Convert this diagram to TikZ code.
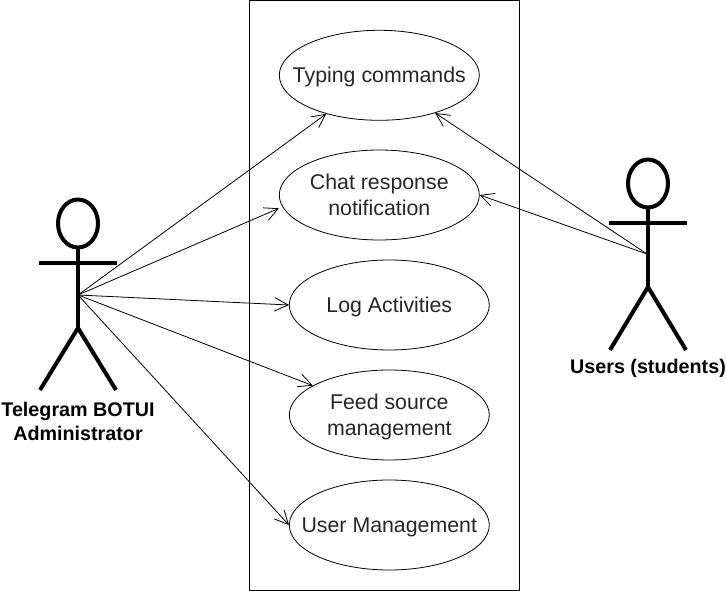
\documentclass[tikz,border=0pt]{standalone}
\usepackage{fontspec}
\setmainfont{Liberation Sans}
\usetikzlibrary{arrows.meta,shapes.geometric}
\newcommand{\uctext}[1]{\raisebox{-6pt}[0pt][0pt]{\makebox[0pt][c]{\begin{tabular}{@{}c@{}}#1\end{tabular}}}}
\begin{document}
\begin{tikzpicture}[x=0.75pt,y=-0.75pt,line join=round,
 uc/.style={draw=black,ellipse,line width=0.6pt,minimum width=150pt,minimum height=67.5pt,inner sep=0pt,font=\fontsize{16}{19.25}\selectfont,text=black!85},
 limb/.style={draw=black,line width=3pt},
 lab/.style={align=center,font=\bfseries\fontsize{14.8}{18}\selectfont},
 conn/.style={draw=black,line width=0.6pt,-{Straight Barb[length=10pt,width=10pt,line width=0.6pt]}}]
\useasboundingbox (0,0) rectangle (726,591);
\fill[white] (0,0) rectangle (726,591);
\node[draw=black,line width=0.75pt,minimum width=202.5pt,minimum height=442.5pt,inner sep=0pt] (sys) at (384.3,295.5) {};
\node[uc] (a) at (379.3,75.3) {\uctext{Typing commands}};
\node[uc] (b) at (379.3,195) {\uctext{Chat response\\notification}};
\node[uc] (c) at (389.3,305) {\uctext{Log Activities}};
\node[uc] (d) at (389.3,415) {\uctext{Feed source\\management}};
\node[uc] (e) at (389.3,525) {\uctext{User Management}};
\coordinate (bt) at ([yshift=-10pt]b.west);
% left actor
\coordinate (L) at (78,295);
\draw[limb] (78,223.5) ellipse (20 and 24);
\draw[limb] (78,247.5) -- (78,328);
\draw[limb] (39,263.5) -- (117,263.5);
\draw[limb] (40,390) -- (78,328) -- (116,390);
\node[lab] (ll) at (78,421) {Telegram BOTUI\\Administrator};
% right actor
\coordinate (R) at (647,254);
\draw[limb] (648,183.5) ellipse (20 and 24);
\draw[limb] (648,207.5) -- (648,287);
\draw[limb] (609,223.5) -- (687,223.5);
\draw[limb] (610,350) -- (648,287) -- (686,350);
\node[lab] (rl) at (648,368) {Users (students)};
\draw[conn] (L) -- (a.216);
\draw[conn] (L) -- (bt);
\draw[conn] (L) -- (c.west);
\draw[conn] (L) -- (d.159);
\draw[conn] (L) -- (e.west);
\draw[conn] (R) -- (a.326.6);
\draw[conn] (R) -- (b.east);
\end{tikzpicture}
\end{document}
